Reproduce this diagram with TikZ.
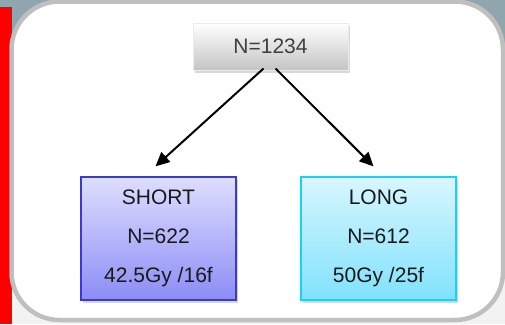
\documentclass[tikz,border=0pt]{standalone}
\usepackage{fontspec}
\setmainfont{Liberation Sans}
\usetikzlibrary{arrows.meta,shadows}

% colours of the slide and the boxes
\definecolor{slidetop}{HTML}{8FA6AE}
\definecolor{slidebot}{HTML}{F2F2F2}
\definecolor{frameline}{HTML}{BFBFBF}
\definecolor{totaltext}{HTML}{404040}
\definecolor{shortline}{HTML}{3A3ACC}
\definecolor{shorttop}{HTML}{DEDEFF}
\definecolor{shortbot}{HTML}{8C8CF6}
\definecolor{longline}{HTML}{1ACFFF}
\definecolor{longtop}{HTML}{D8F6FF}
\definecolor{longbot}{HTML}{80E2FC}

\tikzset{
  boxshadow/.style={drop shadow={opacity=0.3, shadow xshift=2pt, shadow yshift=-3pt}},
  totalbox/.style={draw=black!8, line width=1pt, top color=white, bottom color=black!23,
    minimum width=155pt, minimum height=47pt, inner sep=0pt, text=totaltext,
    font=\fontsize{21}{25}\selectfont, boxshadow},
  armbox/.style={draw, line width=1.3pt, minimum width=155pt, minimum height=123pt,
    inner sep=0pt, align=center, text=black!90, font=\fontsize{21}{39}\selectfont, boxshadow},
  split/.style={line width=2pt, -{Triangle[length=14pt, width=13pt]}}
}

\begin{document}
\begin{tikzpicture}[x=1pt, y=-1pt]
  \useasboundingbox (0,0) rectangle (505,324);

  % slide background, red side bar and rounded frame
  \fill[slidetop] (0,0) rectangle (505,160);
  \fill[slidebot] (0,160) rectangle (505,324);
  \fill[red] (0,7) rectangle (12,324);
  \draw[frameline, line width=4.5pt, fill=white, rounded corners=48pt] (11.5,1.5) rectangle (503,320);

  % the whole cohort and the two arms
  \node[totalbox] (total) at (270.5,46.5) {N=1234};
  \node[armbox, draw=shortline, top color=shorttop, bottom color=shortbot] (short) at (158.5,238.5)
    {SHORT\\N=622\\42.5Gy /16f};
  \node[armbox, draw=longline, top color=longtop, bottom color=longbot] (long) at (378.5,238.5)
    {LONG\\N=612\\50Gy /25f};

  % split into the arms
  \draw[split] ([xshift=-7pt, yshift=2pt]total.south) -- ([xshift=-3pt, yshift=10pt]short.north);
  \draw[split] ([xshift=5pt, yshift=2pt]total.south) -- ([xshift=-5pt, yshift=10pt]long.north);
\end{tikzpicture}
\end{document}
